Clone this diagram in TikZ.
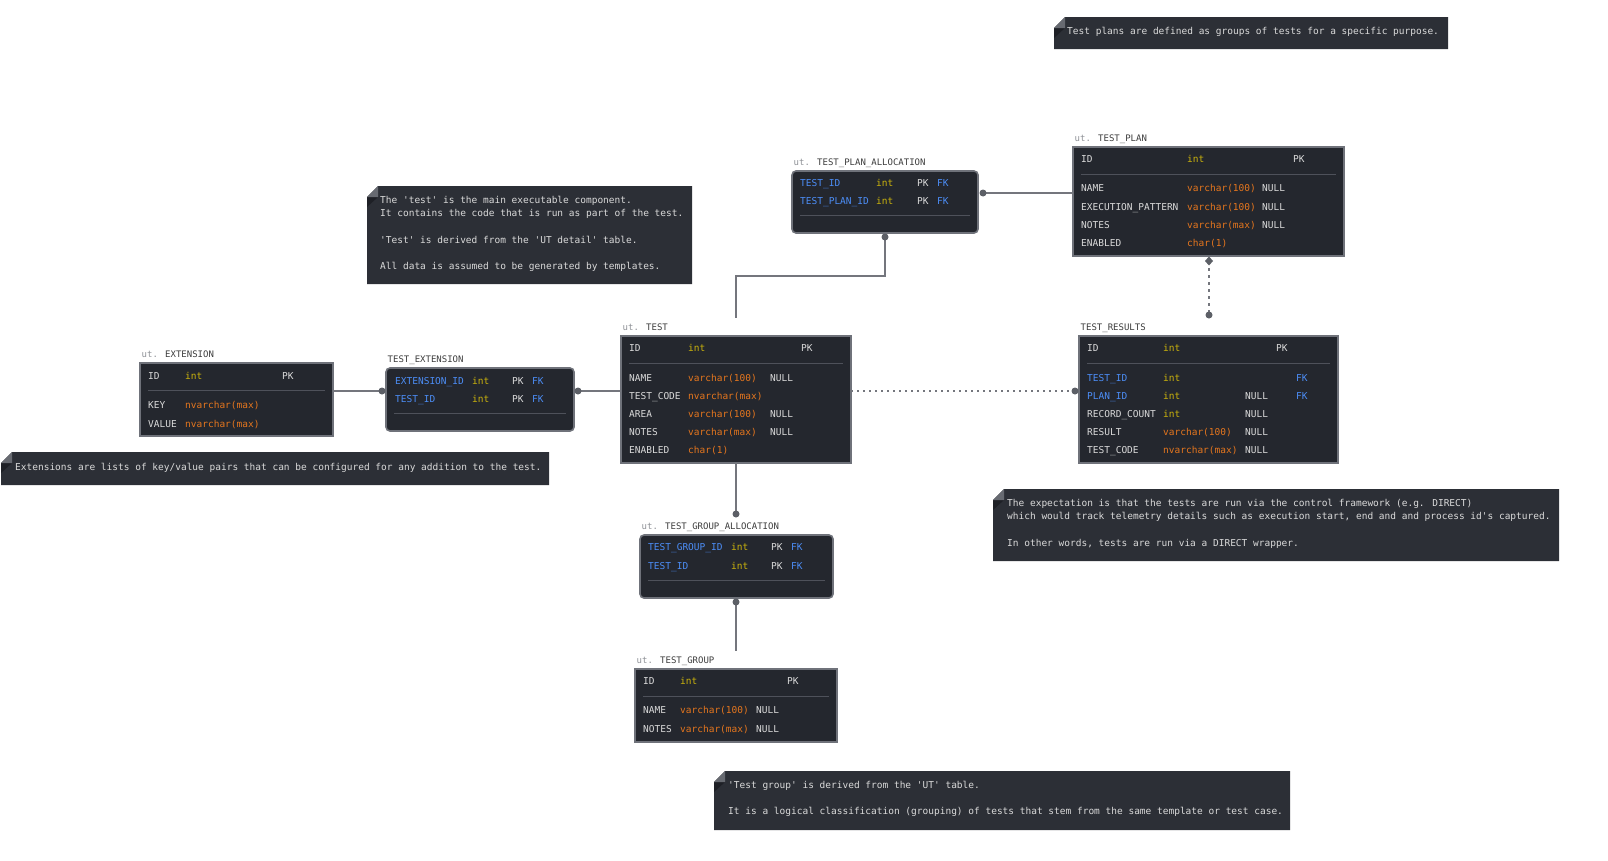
\documentclass[tikz,border=0pt]{standalone}
\usepackage{fontspec}
\newfontfamily\erfont{DejaVu Sans Mono}[Ligatures=TeXOff]
\usetikzlibrary{positioning}
\definecolor{tblbg}{HTML}{24272E}
\definecolor{tblline}{HTML}{6F727A}
\definecolor{sepline}{HTML}{4E515A}
\definecolor{notebg}{HTML}{2C2F36}
\definecolor{fold}{HTML}{676A71}
\definecolor{foldshade}{HTML}{1E2026}
\definecolor{fldtxt}{HTML}{DADADA}
\definecolor{fktxt}{HTML}{4C8DF6}
\definecolor{inttxt}{HTML}{CBB30C}
\definecolor{chartxt}{HTML}{E5761E}
\definecolor{relline}{HTML}{74767D}
\definecolor{dotgray}{HTML}{5C5F66}
\definecolor{schemagray}{HTML}{8E9196}
\definecolor{titletxt}{HTML}{3C3C3C}
\newcommand\erfs{\erfont\fontsize{9.5}{13.2}\selectfont}
\tikzset{
  tbl/.style={draw=tblline, fill=tblbg, line width=1.6pt, anchor=north west, inner sep=0pt, outer sep=0pt},
  jtbl/.style={tbl, rounded corners=4pt},
  fld/.style={font=\erfs, text=fldtxt, anchor=west, inner sep=0pt, text height=7pt, text depth=0pt},
  fk/.style={fld, text=fktxt},
  typint/.style={fld, text=inttxt},
  typchr/.style={fld, text=chartxt},
  ttl/.style={font=\erfont\fontsize{9}{10}\selectfont, text=titletxt, inner sep=0pt, text height=7pt, text depth=0pt},
  sep/.style={draw=sepline, line width=1pt},
  rel/.style={draw=relline, line width=1.5pt},
  dotc/.style={fill=dotgray},
  ntxt/.style={font=\erfs, text=fldtxt, anchor=west, inner sep=0pt, text height=7pt, text depth=0pt},
  nblock/.style={font=\erfs, text=fldtxt, anchor=north west, inner sep=0pt, align=left}
}

\begin{document}
\begin{tikzpicture}[x=1pt,y=-1pt]
  \useasboundingbox (0,0) rectangle (1608,860);

  % notes
  \foreach \x/\y/\w/\h in {1054/17/394/32, 367/186/325/98, 1/452/548/33, 993/489/566/72, 714/771/576/59} {
    \fill[notebg] (\x+11,\y) -- (\x+\w,\y) -- (\x+\w,\y+\h) -- (\x,\y+\h) -- (\x,\y+11) -- cycle;
    \fill[foldshade] (\x,\y+11) -- (\x+11,\y+11) -- (\x,\y+21) -- cycle;
    \fill[fold] (\x,\y+11) -- (\x+11,\y) -- (\x+11,\y+11) -- cycle;
  }
  \node[ntxt] (planNote) at (1067,31) {Test plans are defined as groups of tests for a specific purpose.};
  \node[nblock] (testNote) at (380,196) {The 'test' is the main executable component.\\
    It contains the code that is run as part of the test.\\[13.2pt]
    'Test' is derived from the 'UT detail' table.\\[13.2pt]
    All data is assumed to be generated by templates.};
  \node[ntxt] (extNote) at (15,467) {Extensions are lists of key/value pairs that can be configured for any addition to the test.};
  \node[nblock] (resNote) at (1007,499) {The expectation is that the tests are run via the control framework (e.g. DIRECT)\\
    which would track telemetry details such as execution start, end and and process id's captured.\\[13.2pt]
    In other words, tests are run via a DIRECT wrapper.};
  \node[nblock] (grpNote) at (728,781) {'Test group' is derived from the 'UT' table.\\[13.2pt]
    It is a logical classification (grouping) of tests that stem from the same template or test case.};

  % tables
  \node[tbl, minimum width=271pt, minimum height=109pt] (plan) at (1073,147) {};
  \node[jtbl, minimum width=186pt, minimum height=62pt] (tpa) at (792,171) {};
  \node[tbl, minimum width=193pt, minimum height=73pt] (ext) at (140,363) {};
  \node[jtbl, minimum width=188pt, minimum height=63pt] (te) at (386,368) {};
  \node[tbl, minimum width=230pt, minimum height=127pt] (test) at (621,336) {};
  \node[tbl, minimum width=259pt, minimum height=127pt] (tr) at (1079,336) {};
  \node[jtbl, minimum width=193pt, minimum height=63pt] (tga) at (640,535) {};
  \node[tbl, minimum width=202pt, minimum height=73pt] (tg) at (635,669) {};
  \foreach \t/\d in {plan/27, ext/27, test/27, tr/27, tg/27, tpa/44, te/45, tga/45}
    \draw[sep] ([xshift=8pt,yshift=-\d pt]\t.north west) -- ([xshift=-8pt,yshift=-\d pt]\t.north east);

  % titles
  \node[ttl, above right=5.5pt and 1.5pt of plan.north west] (plan-lbl) {\textcolor{schemagray}{ut.} TEST\_PLAN};
  \node[ttl, above right=5.5pt and 1.5pt of tpa.north west] (tpa-lbl) {\textcolor{schemagray}{ut.} TEST\_PLAN\_ALLOCATION};
  \node[ttl, above right=5.5pt and 1.5pt of ext.north west] (ext-lbl) {\textcolor{schemagray}{ut.} EXTENSION};
  \node[ttl, above right=5.5pt and 1.5pt of te.north west] (te-lbl) {TEST\_EXTENSION};
  \node[ttl, above right=5.5pt and 1.5pt of test.north west] (test-lbl) {\textcolor{schemagray}{ut.} TEST};
  \node[ttl, above right=5.5pt and 1.5pt of tr.north west] (tr-lbl) {TEST\_RESULTS};
  \node[ttl, above right=5.5pt and 1.5pt of tga.north west] (tga-lbl) {\textcolor{schemagray}{ut.} TEST\_GROUP\_ALLOCATION};
  \node[ttl, above right=5.5pt and 1.5pt of tg.north west] (tg-lbl) {\textcolor{schemagray}{ut.} TEST\_GROUP};

  % TEST_PLAN
  \node[fld] (plan-id) at (1081,159) {ID};
  \node[typint] (plan-idt) at (1187,159) {int};
  \node[fld] (plan-pk) at (1293,159) {PK};
  \foreach \y/\n/\s/\t/\k [count=\i] in {188/NAME/typchr/varchar(100)/NULL, 207/EXECUTION\_PATTERN/typchr/varchar(100)/NULL,
      225/NOTES/typchr/varchar(max)/NULL, 243/ENABLED/typchr/char(1)/{}} {
    \node[fld] (plan-n\i) at (1081,\y) {\n};
    \node[\s] (plan-t\i) at (1187,\y) {\t};
    \node[fld] (plan-k\i) at (1262,\y) {\k};
  }

  % TEST_PLAN_ALLOCATION
  \foreach \y/\n [count=\i] in {183/TEST\_ID, 201/TEST\_PLAN\_ID} {
    \node[fk] (tpa-n\i) at (800,\y) {\n};
    \node[typint] (tpa-t\i) at (876,\y) {int};
    \node[fld] (tpa-pk\i) at (917,\y) {PK};
    \node[fk] (tpa-fk\i) at (937,\y) {FK};
  }

  % EXTENSION
  \node[fld] (ext-id) at (148,376) {ID};
  \node[typint] (ext-idt) at (185,376) {int};
  \node[fld] (ext-pk) at (282,376) {PK};
  \foreach \y/\n [count=\i] in {405/KEY, 424/VALUE} {
    \node[fld] (ext-n\i) at (148,\y) {\n};
    \node[typchr] (ext-t\i) at (185,\y) {nvarchar(max)};
  }

  % TEST_EXTENSION
  \foreach \y/\n [count=\i] in {381/EXTENSION\_ID, 399/TEST\_ID} {
    \node[fk] (te-n\i) at (395,\y) {\n};
    \node[typint] (te-t\i) at (472,\y) {int};
    \node[fld] (te-pk\i) at (512,\y) {PK};
    \node[fk] (te-fk\i) at (532,\y) {FK};
  }

  % TEST
  \node[fld] (test-id) at (629,348) {ID};
  \node[typint] (test-idt) at (688,348) {int};
  \node[fld] (test-pk) at (801,348) {PK};
  \foreach \y/\n/\t/\k [count=\i] in {378/NAME/varchar(100)/NULL, 396/TEST\_CODE/nvarchar(max)/{},
      414/AREA/varchar(100)/NULL, 432/NOTES/varchar(max)/NULL, 450/ENABLED/char(1)/{}} {
    \node[fld] (test-n\i) at (629,\y) {\n};
    \node[typchr] (test-t\i) at (688,\y) {\t};
    \node[fld] (test-k\i) at (770,\y) {\k};
  }

  % TEST_RESULTS
  \node[fld] (tr-id) at (1087,348) {ID};
  \node[typint] (tr-idt) at (1163,348) {int};
  \node[fld] (tr-pk) at (1276,348) {PK};
  \foreach \y/\a/\n/\s/\t/\k [count=\i] in {378/fk/TEST\_ID/typint/int/{}, 396/fk/PLAN\_ID/typint/int/NULL,
      414/fld/RECORD\_COUNT/typint/int/NULL, 432/fld/RESULT/typchr/varchar(100)/NULL,
      450/fld/TEST\_CODE/typchr/nvarchar(max)/NULL} {
    \node[\a] (tr-n\i) at (1087,\y) {\n};
    \node[\s] (tr-t\i) at (1163,\y) {\t};
    \node[fld] (tr-k\i) at (1245,\y) {\k};
  }
  \node[fk] (tr-fk1) at (1296,378) {FK};
  \node[fk] (tr-fk2) at (1296,396) {FK};

  % TEST_GROUP_ALLOCATION
  \foreach \y/\n [count=\i] in {547/TEST\_GROUP\_ID, 566/TEST\_ID} {
    \node[fk] (tga-n\i) at (648,\y) {\n};
    \node[typint] (tga-t\i) at (731,\y) {int};
    \node[fld] (tga-pk\i) at (771,\y) {PK};
    \node[fk] (tga-fk\i) at (791,\y) {FK};
  }

  % TEST_GROUP
  \node[fld] (tg-id) at (643,681) {ID};
  \node[typint] (tg-idt) at (680,681) {int};
  \node[fld] (tg-pk) at (787,681) {PK};
  \foreach \y/\n/\t [count=\i] in {710/NAME/varchar(100), 729/NOTES/varchar(max)} {
    \node[fld] (tg-n\i) at (643,\y) {\n};
    \node[typchr] (tg-t\i) at (680,\y) {\t};
    \node[fld] (tg-k\i) at (756,\y) {NULL};
  }

  % relations
  \coordinate (tpa-e) at (983,193);
  \coordinate (tpa-s) at (885,237);
  \coordinate (test-top) at (736,318);
  \coordinate (te-w) at (382,391);
  \coordinate (te-e) at (578,391);
  \coordinate (tr-w) at (1075,391);
  \coordinate (plan-s) at (1209,261);
  \coordinate (tr-top) at (1209,315);
  \coordinate (tga-n) at (736,514);
  \coordinate (tga-s) at (736,602);
  \coordinate (tg-top) at (736,651);
  \draw[rel] (tpa-e) -- (tpa-e -| plan.west);
  \draw[rel] (tpa-s) -- ++(0,39) -| (test-top);
  \draw[rel] (ext.east |- te-w) -- (te-w);
  \draw[rel] (te-e) -- (te-e -| test.west);
  \draw[rel, dash pattern=on 2pt off 4pt] (test.east |- tr-w) -- (tr-w);
  \draw[rel, dash pattern=on 3pt off 4pt] (plan-s) -- (tr-top);
  \draw[rel] (test.south) -- (tga-n);
  \draw[rel] (tga-s) -- (tg-top);
  \foreach \c in {tpa-e, tpa-s, te-w, te-e, tr-w, tr-top, tga-n, tga-s}
    \fill[dotc] (\c) circle (3.5pt);
  \fill[dotc] (plan-s) +(0,-4.5) -- +(4,0) -- +(0,4.5) -- +(-4,0) -- cycle;
\end{tikzpicture}
\end{document}
